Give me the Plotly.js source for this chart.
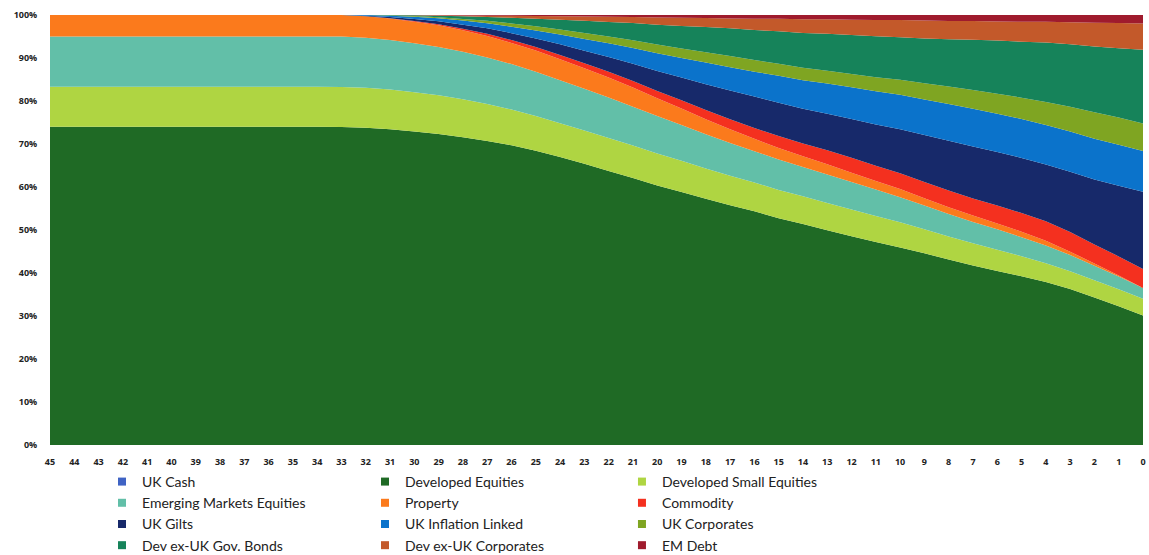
<!DOCTYPE html>
<html>
<head>
<meta charset="utf-8">
<script src="https://cdn.plot.ly/plotly-3.0.1.min.js"></script>
<style>
  html, body { margin: 0; padding: 0; background: #ffffff; }
  #chart { width: 1149px; height: 555px; }
</style>
</head>
<body>
<div id="chart"></div>
<script>
// Years to retirement (x axis, reversed 45 -> 0)
const years = [45,44,43,42,41,40,39,38,37,36,35,34,33,32,31,30,29,28,27,26,25,24,23,22,21,20,19,18,17,16,15,14,13,12,11,10,9,8,7,6,5,4,3,2,1,0];

// Allocation (%) per asset class, one value per year above
const ukCash = [0,0,0,0,0,0,0,0,0,0,0,0,0,0,0,0,0,0,0,0,0,0,0,0,0,0,0,0,0,0,0,0,0,0,0,0,0,0,0,0,0,0,0,0,0,0];
const developedEquities = [74,74,74,74,74,74,74,74,74,74,74,74,73.8,73.7,73.3,72.8,72.1,71.4,70.5,69.3,67.9,66.3,64.7,63.0,61.6,60.0,58.6,57.0,55.6,54.4,53.0,51.9,50.5,49.1,47.7,46.3,44.9,43.5,42.1,40.9,39.8,38.4,36.7,34.7,32.6,30.2];
const developedSmallEquities = [9.3,9.3,9.3,9.3,9.3,9.3,9.3,9.3,9.3,9.3,9.3,9.3,9.3,9.3,9.2,9.1,9.0,8.8,8.6,8.3,8.0,7.8,7.7,7.6,7.5,7.4,7.2,7.0,6.8,6.7,6.6,6.5,6.4,6.3,6.1,5.9,5.6,5.4,5.2,5.0,4.7,4.4,4.2,4.1,4.0,3.9];
const emergingMarketsEquities = [11.7,11.7,11.7,11.7,11.7,11.7,11.7,11.7,11.7,11.7,11.7,11.7,11.7,11.6,11.5,11.4,11.2,11.0,10.8,10.5,10.2,9.9,9.6,9.3,9.0,8.7,8.3,7.9,7.6,7.3,7.1,6.9,6.7,6.5,6.2,5.9,5.6,5.3,5.0,4.8,4.5,4.2,3.8,3.4,3.0,2.5];
const property = [5,5,5,5,5,5,5,5,5,5,5,5,5,5,5,5,5,5,5,4.9,4.9,4.8,4.7,4.6,4.4,4.1,3.8,3.5,3.2,2.9,2.7,2.5,2.4,2.2,2.0,1.9,1.7,1.6,1.5,1.4,1.3,1.1,0.8,0.5,0.2,0];
const commodity = [0,0,0,0,0,0,0,0,0,0,0,0,0,0,0.05,0.15,0.25,0.35,0.5,0.65,0.8,1.0,1.15,1.3,1.5,1.7,1.9,2.1,2.3,2.5,2.8,3.0,3.3,3.5,3.6,3.7,3.8,3.9,4.0,4.2,4.4,4.6,4.6,4.5,4.5,4.4];
const ukGilts = [0,0,0,0,0,0,0,0,0,0,0,0,0,0.15,0.3,0.5,0.7,0.95,1.25,1.6,2.0,2.45,2.9,3.4,4.0,4.6,5.3,6.0,6.7,7.3,7.8,8.2,8.6,9.1,9.7,10.3,11.0,11.7,12.2,12.6,13.0,13.4,14.2,15.3,16.6,18.0];
const ukInflationLinked = [0,0,0,0,0,0,0,0,0,0,0,0,0,0.15,0.3,0.5,0.7,0.95,1.2,1.5,1.85,2.25,2.7,3.15,3.65,4.1,4.5,5.0,5.4,5.8,6.3,6.7,7.1,7.5,7.8,8.1,8.3,8.6,8.8,9.0,9.2,9.3,9.5,9.6,9.6,9.5];
const ukCorporates = [0,0,0,0,0,0,0,0,0,0,0,0,0,0,0.05,0.15,0.25,0.4,0.55,0.75,0.95,1.15,1.35,1.55,1.8,2.0,2.2,2.4,2.6,2.7,2.8,2.9,3.0,3.1,3.3,3.5,3.8,4.1,4.4,4.7,5.0,5.4,5.8,6.2,6.4,6.4];
const devExUkGovBonds = [0,0,0,0,0,0,0,0,0,0,0,0,0,0,0.1,0.2,0.35,0.6,0.9,1.3,1.75,2.25,2.8,3.35,3.95,4.6,5.2,5.8,6.4,7.0,7.6,8.2,8.7,9.2,9.6,10.0,10.5,11.1,11.8,12.5,13.2,14.0,14.7,15.5,16.3,17.2];
const devExUkCorporates = [0,0,0,0,0,0,0,0,0,0,0,0,0,0,0,0.05,0.1,0.2,0.3,0.45,0.6,0.8,1.0,1.2,1.4,1.7,1.9,2.1,2.3,2.6,2.9,3.2,3.4,3.6,3.8,4.0,4.2,4.3,4.4,4.5,4.7,4.9,5.2,5.6,5.9,6.1];
const emDebt = [0,0,0,0,0,0,0,0,0,0,0,0,0,0,0,0,0.05,0.1,0.15,0.2,0.25,0.3,0.35,0.4,0.45,0.55,0.65,0.7,0.8,0.9,0.9,1.0,1.0,1.1,1.2,1.2,1.3,1.4,1.4,1.5,1.6,1.6,1.7,1.8,1.9,2.0];

const seriesNames = ["UK Cash","Developed Equities","Developed Small Equities","Emerging Markets Equities","Property","Commodity","UK Gilts","UK Inflation Linked","UK Corporates","Dev ex-UK Gov. Bonds","Dev ex-UK Corporates","EM Debt"];
const seriesValues = [ukCash, developedEquities, developedSmallEquities, emergingMarketsEquities, property, commodity, ukGilts, ukInflationLinked, ukCorporates, devExUkGovBonds, devExUkCorporates, emDebt];
const seriesColors = ["#3f63c4","#1f6a25","#afd542","#62bfa8","#fb7a1c","#f4301f","#17296a","#0b73cb","#7fa522","#16835a","#c3592a","#9f1b2d"];
// legend column for each series (Excel lays the legend out row by row, 3 per row)
const legendCols = ["legend","legend2","legend3"];

const traces = [];
seriesNames.forEach((name, i) => {
  traces.push({
    type: "scatter",
    x: years,
    y: seriesValues[i],
    name: name,
    mode: "none",
    stackgroup: "alloc",
    groupnorm: i === 0 ? "percent" : undefined,
    fillcolor: seriesColors[i],
    line: { width: 0, shape: "linear" },
    showlegend: false,
    hovertemplate: name + ": %{y:.1f}%<extra></extra>"
  });
});
// Legend entries (small squares like the original)
const legendOrder = [0,3,6,9, 1,4,7,10, 2,5,8,11];
legendOrder.forEach((i) => {
  traces.push({
    type: "scatter",
    x: [null],
    y: [null],
    name: seriesNames[i],
    mode: "markers",
    marker: { symbol: "square", size: 8, color: seriesColors[i] },
    showlegend: true,
    legend: legendCols[i % 3],
    hoverinfo: "skip"
  });
});

const legendFont = { family: "Lato, 'Open Sans', sans-serif", size: 14, color: "#222222" };
const legendBase = {
  orientation: "v",
  yanchor: "top",
  y: -0.0488,
  xanchor: "left",
  font: legendFont,
  bgcolor: "rgba(0,0,0,0)",
  borderwidth: 0,
  itemwidth: 30,
  tracegroupgap: 0,
  traceorder: "normal"
};

const tickFont = { family: "'Open Sans', 'DejaVu Sans', sans-serif", size: 9, color: "#222222", weight: 700 };

const layout = {
  width: 1149,
  height: 555,
  margin: { l: 50, r: 6, t: 15, b: 110, autoexpand: false },
  paper_bgcolor: "#ffffff",
  plot_bgcolor: "#ffffff",
  showlegend: true,
  xaxis: {
    range: [45, 0],
    tickmode: "array",
    tickvals: years,
    ticktext: years.map(String),
    showgrid: false,
    zeroline: false,
    showline: false,
    ticks: "outside",
    ticklen: 8,
    tickcolor: "rgba(0,0,0,0)",
    tickfont: tickFont,
    fixedrange: true
  },
  yaxis: {
    range: [0, 100],
    tickmode: "array",
    tickvals: [0,10,20,30,40,50,60,70,80,90,100],
    ticktext: ["0%","10%","20%","30%","40%","50%","60%","70%","80%","90%","100%"],
    showgrid: false,
    zeroline: false,
    showline: false,
    ticks: "outside",
    ticklen: 10,
    tickcolor: "rgba(0,0,0,0)",
    tickfont: tickFont,
    fixedrange: true
  },
  legend: Object.assign({}, legendBase, { x: 0.0476 }),
  legend2: Object.assign({}, legendBase, { x: 0.2882 }),
  legend3: Object.assign({}, legendBase, { x: 0.5233 })
};

Plotly.newPlot("chart", traces, layout, { displayModeBar: false, staticPlot: true });
</script>
</body>
</html>
